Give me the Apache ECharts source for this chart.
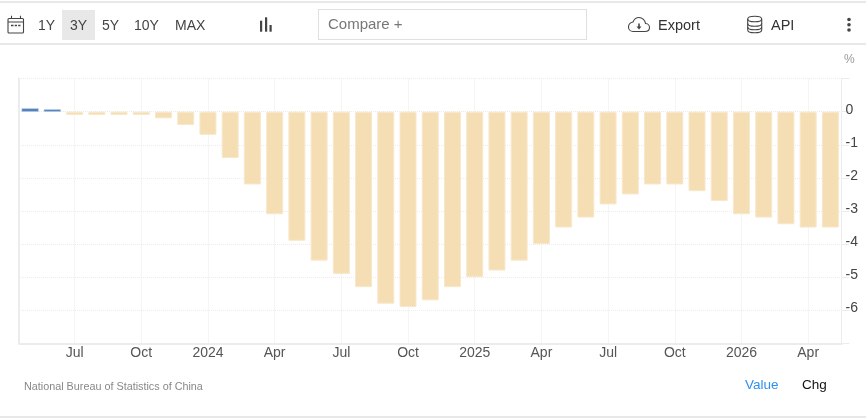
<!DOCTYPE html>
<html>
<head>
<meta charset="utf-8">
<style>
  html, body { margin: 0; padding: 0; background: #fff; width: 866px; height: 419px; overflow: hidden; }
  body { position: relative; font-family: "Liberation Sans", Arial, sans-serif; }
  #chart { position: absolute; left: 0; top: 0; width: 866px; height: 419px; }
  .rule { position: absolute; left: 0; width: 866px; height: 1.5px; background: #e8e8e8; }
  .t { position: absolute; white-space: nowrap; line-height: 16px; color: #444; font-size: 14px; }
  #active { position: absolute; left: 62px; top: 10px; width: 33px; height: 30px; background: #e8e8e8; }
  #compare { position: absolute; left: 318px; top: 9px; width: 267px; height: 29px; border: 1px solid #e0e0dc; }
  svg { position: absolute; left: 0; top: 0; }
</style>
</head>
<body>
<div id="chart"></div>

<div class="rule" style="top:1px"></div>
<div class="rule" style="top:43px"></div>
<div class="rule" style="top:416px"></div>

<div id="active"></div>
<div class="t" style="left:38px;top:17px">1Y</div>
<div class="t" style="left:70px;top:17px">3Y</div>
<div class="t" style="left:102px;top:17px">5Y</div>
<div class="t" style="left:134px;top:17px">10Y</div>
<div class="t" style="left:175px;top:17px">MAX</div>
<div id="compare"></div>
<div class="t" style="left:328px;top:16px;font-size:15px;color:#777">Compare +</div>
<div class="t" style="left:658px;top:17px;font-size:14.5px;color:#333">Export</div>
<div class="t" style="left:771px;top:17px;font-size:14.5px;color:#333">API</div>
<div class="t" style="left:844px;top:51px;font-size:12px;color:#999">%</div>
<div class="t" style="left:24px;top:378px;font-size:10.8px;color:#888">National Bureau of Statistics of China</div>
<div class="t" style="left:745px;top:377px;font-size:13.5px;color:#2f8ff0">Value</div>
<div class="t" style="left:802px;top:377px;font-size:13.5px;color:#111">Chg</div>

<svg width="866" height="44" fill="none" stroke="#444" stroke-width="1.1">
  <!-- calendar -->
  <rect x="8" y="18.5" width="15.5" height="14.5" rx="1"/>
  <path d="M8 22H23.5M11.5 15.7V19M20.5 15.7V19"/>
  <path d="M11 25.5H13.5M14.7 25.5H17M18.2 25.5H20.5" stroke-width="1.4"/>
  <!-- chart type -->
  <g fill="#444" stroke="none">
    <rect x="260" y="20.7" width="2.2" height="11"/>
    <rect x="265" y="17.3" width="2.2" height="14.4"/>
    <rect x="269.5" y="25" width="2.2" height="6.7"/>
  </g>
  <!-- cloud with download arrow -->
  <path d="M633 31.5H645C648 31.5 649.5 29.5 649.5 27.5C649.5 25 647.5 23.5 645.5 23.5C645 20 642 17.5 639 17.5C636 17.5 634 19.5 633 22C630.5 22.5 628.5 24.5 628.5 27C628.5 29.5 630.5 31.5 633 31.5Z"/>
  <path d="M639 23.5V27.5" stroke-width="1.6"/>
  <path d="M636.5 26.5H641.5L639 29.5Z" fill="#444" stroke="none"/>
  <!-- database -->
  <ellipse cx="754.7" cy="19" rx="7" ry="2.8"/>
  <path d="M747.7 19V30C747.7 31.6 750.8 32.8 754.7 32.8C758.6 32.8 761.7 31.6 761.7 30V19"/>
  <path d="M747.7 23.5C747.7 25.1 750.8 26.3 754.7 26.3C758.6 26.3 761.7 25.1 761.7 23.5"/>
  <path d="M747.7 27C747.7 28.6 750.8 29.8 754.7 29.8C758.6 29.8 761.7 28.6 761.7 27"/>
  <!-- overflow menu -->
  <g fill="#444" stroke="none">
    <circle cx="849" cy="19.5" r="1.8"/>
    <circle cx="849" cy="24.8" r="1.8"/>
    <circle cx="849" cy="30" r="1.8"/>
  </g>
</svg>

<script src="https://cdn.jsdelivr.net/npm/echarts@6/dist/echarts.min.js"></script>
<script>
// Monthly tick labels, May 2023 to May 2026; a year stands in for each January.
const months = [
  'May', 'Jun', 'Jul', 'Aug', 'Sep', 'Oct', 'Nov', 'Dec',
  '2024', 'Feb', 'Mar', 'Apr', 'May', 'Jun', 'Jul', 'Aug', 'Sep', 'Oct', 'Nov', 'Dec',
  '2025', 'Feb', 'Mar', 'Apr', 'May', 'Jun', 'Jul', 'Aug', 'Sep', 'Oct', 'Nov', 'Dec',
  '2026', 'Feb', 'Mar', 'Apr', 'May'
];

// Percent values per month.
const values = [
  0.1, 0.07, -0.1, -0.1, -0.1, -0.1, -0.2, -0.4,
  -0.7, -1.4, -2.2, -3.1, -3.9, -4.5, -4.9, -5.3, -5.8, -5.9, -5.7, -5.3,
  -5.0, -4.8, -4.5, -4.0, -3.5, -3.2, -2.8, -2.5, -2.2, -2.2, -2.4, -2.7,
  -3.1, -3.2, -3.4, -3.5, -3.5
];

// Only quarter starts carry a label and a vertical guide.
const everyQuarter = (index) => index % 3 === 2;

const faint = '#ececec';

const bars = values.map((v) => ({
  value: v,
  itemStyle: v >= 0
    ? { color: '#4f81bd', borderColor: '#b0c6e0', borderWidth: 0.5 }
    : { color: '#f5deb3', borderColor: '#f8e8cc', borderWidth: 1 }
}));

const chart = echarts.init(document.getElementById('chart'), null, { renderer: 'canvas' });
chart.setOption({
  animation: false,
  backgroundColor: 'transparent',
  grid: { left: 19, right: 24.5, top: 78.6, bottom: 75.6, containLabel: false },
  xAxis: {
    type: 'category',
    data: months,
    boundaryGap: true,
    axisLine: { onZero: false, lineStyle: { color: faint, width: 2 } },
    axisTick: { show: false },
    axisLabel: {
      interval: everyQuarter,
      color: '#555',
      fontSize: 14,
      fontFamily: '"Liberation Sans", Arial, sans-serif',
      margin: 3
    },
    splitLine: {
      show: true,
      interval: everyQuarter,
      alignWithLabel: true,
      lineStyle: { color: faint, type: 'dotted', width: 1 }
    }
  },
  yAxis: [
    {
      type: 'value',
      position: 'right',
      min: -7,
      max: 1,
      interval: 1,
      axisLine: { show: true, onZero: false, lineStyle: { color: faint, width: 1 } },
      axisTick: { show: true, length: 8, lineStyle: { color: faint } },
      axisLabel: {
        color: '#444',
        fontSize: 14,
        fontFamily: '"Liberation Sans", Arial, sans-serif',
        margin: 4,
        align: 'left',
        verticalAlign: 'bottom',
        lineHeight: 4,
        formatter: (v) => (v === 1 || v === -7 ? '' : String(v))
      },
      splitLine: { show: true, lineStyle: { color: faint, type: 'dotted', width: 1 } }
    },
    {
      type: 'value',
      position: 'left',
      min: -7,
      max: 1,
      interval: 1,
      axisLine: { show: true, onZero: false, lineStyle: { color: faint, width: 2 } },
      axisTick: { show: false },
      axisLabel: { show: false },
      splitLine: { show: false }
    }
  ],
  series: [
    {
      type: 'bar',
      yAxisIndex: 0,
      barWidth: 17,
      data: bars
    }
  ]
});
</script>
</body>
</html>
